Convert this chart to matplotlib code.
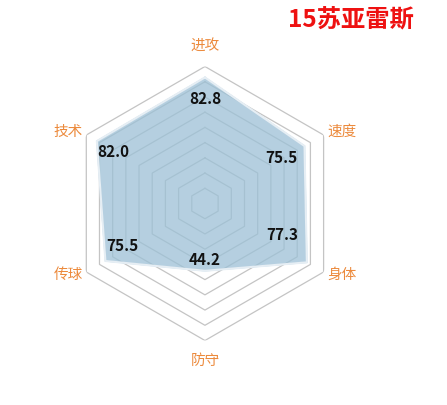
import numpy as np
import matplotlib
matplotlib.use("Agg")
import matplotlib.pyplot as plt

plt.rcParams['font.family'] = ['Noto Sans CJK SC', 'DejaVu Sans']

categories = ['进攻', '速度', '身体', '防守', '传球', '技术']
values = [82.8, 75.5, 77.3, 44.2, 75.5, 82.0]
value_labels = ['82.8', '75.5', '77.3', '44.2', '75.5', '82.0']
title = '15苏亚雷斯'
ring_levels = [10, 20, 30, 40, 50, 60, 70, 80, 90]
r_max = 90

fig = plt.figure(figsize=(4.47, 4.05), dpi=100)
ax = fig.add_axes([0.152, 0.159, 0.613, 0.677], projection='polar')
ax.set_theta_offset(np.pi / 2)
ax.set_theta_direction(-1)
ax.set_ylim(0, r_max)
ax.axis('off')

n = len(categories)
angles = np.linspace(0, 2 * np.pi, n, endpoint=False)
closed = np.concatenate([angles, angles[:1]])

for lv in ring_levels:
    ax.plot(closed, [lv] * (n + 1), color='#c4c4c4', lw=0.9, zorder=1)

vals = np.array(values + values[:1])
ax.fill(closed, vals, color='#9cc0d6', alpha=0.75, zorder=2)
ax.plot(closed, vals, color='#e6eef4', lw=1.5, zorder=3)

offsets = [(0, -22), (-23, -12), (-25, 27), (0, 11), (17, 15), (16, -11)]
for a, v, lab, off in zip(angles, values, value_labels, offsets):
    ax.annotate(lab, xy=(a, v), xytext=off, textcoords='offset pixels',
                ha='center', va='center', fontsize=11, fontweight='bold',
                color='#111111', zorder=4)

label_offsets = [(0, 20), (18, 3), (18, -3), (0, -20), (-18, -3), (-18, 3)]
for a, c, off in zip(angles, categories, label_offsets):
    ax.annotate(c, xy=(a, r_max), xytext=off, textcoords='offset pixels',
                ha='center', va='center', fontsize=10.5, color='#ec8a3c')

fig.text(0.786, 0.95, title, ha='center', va='center', fontsize=17.5,
         fontweight='bold', color='#ee1111')

fig.savefig('out.png', dpi=100)
